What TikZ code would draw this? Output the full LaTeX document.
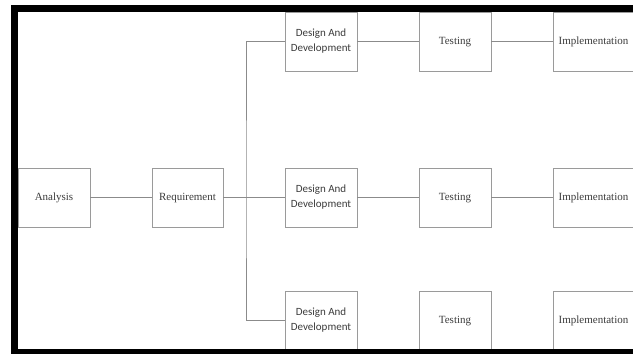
\documentclass[tikz,border=0pt]{standalone}
\usepackage{fontspec}
\setmainfont{Liberation Serif}
\newfontfamily\stfont{Liberation Serif}
\newfontfamily\ddfont{Carlito}
\definecolor{boxgray}{HTML}{9A9A9A}
\definecolor{txtgray}{HTML}{3C3C3C}
\tikzset{
  stage/.style={draw=boxgray, line width=0.8pt, fill=white, minimum width=72pt,
    minimum height=59pt, inner sep=0pt, text=txtgray, text height=8pt, text depth=2.6pt,
    font=\stfont\fontsize{11}{14}\selectfont},
  ddstage/.style={draw=boxgray, line width=0.8pt, fill=white, minimum width=72pt,
    minimum height=59pt, inner sep=0pt, text=txtgray, align=center,
    font=\ddfont\fontsize{11}{15}\selectfont},
  link/.style={draw=boxgray!90!black, line width=0.8pt}
}
\begin{document}
\begin{tikzpicture}[x=1pt,y=-1pt]
\useasboundingbox (0,0) rectangle (633,354);
\node[stage] (ana) at (54,197.5) {Analysis};
\node[stage, minimum width=71pt] (req) at (187.5,197.5) {Requirement};
\node[ddstage] (dd1) at (321,41.5) {Design And\\Development};
\node[ddstage] (dd2) at (321,197.5) {Design And\\Development};
\node[ddstage] (dd3) at (321,320.5) {Design And\\Development};
\node[stage] (tst1) at (455,41.5) {Testing};
\node[stage] (tst2) at (455,197.5) {Testing};
\node[stage] (tst3) at (455,320.5) {Testing};
\node[stage, minimum width=81pt] (imp1) at (593.5,41.5) {Implementation};
\node[stage, minimum width=81pt] (imp2) at (593.5,197.5) {Implementation};
\node[stage, minimum width=81pt] (imp3) at (593.5,320.5) {Implementation};
\coordinate (split) at (246,197.5);
\draw[link] (ana) -- (req);
\draw[link] (req) -- (dd2);
\draw[link] (dd1.west) -| (split) |- (dd3.west);
\draw[link] (dd1) -- (tst1);
\draw[link] (tst1) -- (imp1);
\draw[link] (dd2) -- (tst2);
\draw[link] (tst2) -- (imp2);
% black frame
\fill[black] (11,5) rectangle (640,12);
\fill[black] (11,5) rectangle (18,360);
\fill[black] (11,349) rectangle (640,360);
\end{tikzpicture}
\end{document}
